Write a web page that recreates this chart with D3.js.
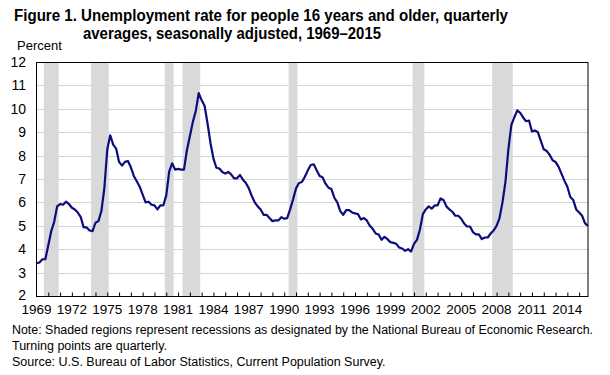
<!DOCTYPE html>
<html>
<head>
<meta charset="utf-8">
<script src="https://cdn.jsdelivr.net/npm/d3@7"></script>
<style>
  body { margin: 0; background: #fff; }
</style>
</head>
<body>
<script>
// quarterly averages, starting 1969 Q1
const firstYear = 1969;
const rate = [
  3.40, 3.43, 3.57, 3.57,   // 1969
  4.17, 4.77, 5.17, 5.83,   // 1970
  5.93, 5.90, 6.03, 5.93,   // 1971
  5.77, 5.70, 5.57, 5.37,   // 1972
  4.93, 4.93, 4.80, 4.77,   // 1973
  5.13, 5.20, 5.63, 6.60,   // 1974
  8.27, 8.87, 8.47, 8.30,   // 1975
  7.73, 7.57, 7.73, 7.77,   // 1976
  7.50, 7.13, 6.90, 6.67,   // 1977
  6.33, 6.00, 6.03, 5.90,   // 1978
  5.87, 5.70, 5.87, 5.87,   // 1979
  6.30, 7.33, 7.67, 7.40,   // 1980
  7.43, 7.40, 7.40, 8.23,   // 1981
  8.83, 9.43, 9.90, 10.67,  // 1982
  10.37, 10.13, 9.37, 8.53, // 1983
  7.87, 7.48, 7.45, 7.30,   // 1984
  7.23, 7.30, 7.20, 7.03,   // 1985
  7.03, 7.17, 6.97, 6.83,   // 1986
  6.60, 6.27, 6.00, 5.83,   // 1987
  5.70, 5.47, 5.47, 5.33,   // 1988
  5.20, 5.23, 5.23, 5.37,   // 1989
  5.30, 5.33, 5.70, 6.13,   // 1990
  6.60, 6.83, 6.87, 7.10,   // 1991
  7.37, 7.60, 7.63, 7.37,   // 1992
  7.13, 7.07, 6.80, 6.63,   // 1993
  6.57, 6.20, 6.00, 5.63,   // 1994
  5.47, 5.67, 5.67, 5.57,   // 1995
  5.53, 5.50, 5.27, 5.33,   // 1996
  5.23, 5.00, 4.87, 4.67,   // 1997
  4.63, 4.40, 4.53, 4.43,   // 1998
  4.30, 4.27, 4.23, 4.07,   // 1999
  4.03, 3.93, 4.00, 3.90,   // 2000
  4.23, 4.40, 4.83, 5.50,   // 2001
  5.70, 5.83, 5.73, 5.87,   // 2002
  5.87, 6.17, 6.10, 5.83,   // 2003
  5.70, 5.60, 5.43, 5.43,   // 2004
  5.30, 5.10, 4.97, 4.97,   // 2005
  4.73, 4.63, 4.63, 4.43,   // 2006
  4.50, 4.50, 4.67, 4.80,   // 2007
  5.00, 5.33, 6.00, 6.87,   // 2008
  8.27, 9.30, 9.63, 9.93,   // 2009
  9.83, 9.63, 9.47, 9.50,   // 2010
  9.03, 9.07, 9.00, 8.63,   // 2011
  8.27, 8.20, 8.03, 7.80,   // 2012
  7.73, 7.53, 7.23, 6.93,   // 2013
  6.67, 6.23, 6.10, 5.70,   // 2014
  5.57, 5.43, 5.10, 5.00    // 2015
];

// NBER peak and trough quarters
const recessionPeak   = ["1969Q4", "1973Q4", "1980Q1", "1981Q3", "1990Q3", "2001Q1", "2007Q4"];
const recessionTrough = ["1970Q4", "1975Q1", "1980Q3", "1982Q4", "1991Q1", "2001Q4", "2009Q2"];

const yTicks = [2, 3, 4, 5, 6, 7, 8, 9, 10, 11, 12];
const xLabelYears = d3.range(1969, 2015, 3);

const titleLines = [
  "Figure 1. Unemployment rate for people 16 years and older, quarterly",
  "averages, seasonally adjusted, 1969–2015"
];
const noteLines = [
  "Note: Shaded regions represent recessions as designated by the National Bureau of Economic Research.",
  "Turning points are quarterly.",
  "Source: U.S. Bureau of Labor Statistics, Current Population Survey."
];

const width = 610, height = 375;
const margin = {top: 62, right: 22, bottom: 79, left: 36.5};
const font = "'Liberation Sans', Arial, sans-serif";

const data = rate.map((v, i) => ({t: firstYear + i / 4, v}));
const qt = s => +s.slice(0, 4) + (+s[5] - 1) / 4;

const x = d3.scaleLinear()
    .domain([firstYear, d3.max(data, d => d.t)])
    .range([margin.left, width - margin.right]);

const y = d3.scaleLinear()
    .domain([2, 12])
    .range([height - margin.bottom, margin.top]);

const svg = d3.select("body").append("svg")
    .attr("width", width)
    .attr("height", height)
    .attr("font-family", font);

// gridlines
svg.append("g")
    .attr("stroke", "#d4d4d4")
  .selectAll("line")
  .data(yTicks.slice(1, -1))
  .join("line")
    .attr("x1", margin.left)
    .attr("x2", width - margin.right)
    .attr("y1", d => Math.round(y(d)) + 0.5)
    .attr("y2", d => Math.round(y(d)) + 0.5);

// recession bands, padded by half a quarter each side
svg.append("g")
    .attr("fill", "#d9d9d9")
  .selectAll("rect")
  .data(d3.zip(recessionPeak, recessionTrough))
  .join("rect")
    .attr("x", d => x(qt(d[0]) - 0.125))
    .attr("width", d => x(qt(d[1]) + 0.125) - x(qt(d[0]) - 0.125))
    .attr("y", y(12))
    .attr("height", y(2) - y(12));

// frame
svg.append("rect")
    .attr("x", margin.left)
    .attr("y", y(12) + 0.5)
    .attr("width", width - margin.right - margin.left)
    .attr("height", y(2) - y(12))
    .attr("fill", "none")
    .attr("stroke", "#000");

// x axis: a tick every year, pointing inward
svg.append("g")
    .attr("transform", `translate(0,${y(2) + 0.5})`)
    .call(d3.axisBottom(x)
        .tickValues(d3.range(1970, 2016))
        .tickSizeInner(-4)
        .tickSizeOuter(0)
        .tickFormat(""))
    .call(g => g.select(".domain").remove())
    .call(g => g.selectAll(".tick line").attr("stroke", "#000"));

svg.append("g")
    .attr("font-size", 13.5)
    .attr("text-anchor", "middle")
  .selectAll("text")
  .data(xLabelYears)
  .join("text")
    .attr("x", d => x(d))
    .attr("y", 314)
    .text(d => d);

// y axis labels
svg.append("g")
    .attr("font-size", 14)
    .attr("text-anchor", "end")
  .selectAll("text")
  .data(yTicks)
  .join("text")
    .attr("x", 26)
    .attr("y", d => y(d) - (d === 2 ? 1 : 0))
    .attr("dy", "0.36em")
    .text(d => d);

svg.append("text")
    .attr("x", 17)
    .attr("y", 50)
    .attr("font-size", 13)
    .text("Percent");

// the series
svg.append("path")
    .datum(data)
    .attr("fill", "none")
    .attr("stroke", "#0c0c7c")
    .attr("stroke-width", 2.2)
    .attr("stroke-linejoin", "round")
    .attr("d", d3.line().x(d => x(d.t)).y(d => y(d.v)));

// title
const title = svg.append("g")
    .attr("font-size", 16)
    .attr("font-weight", "bold");
title.append("text").attr("x", 14).attr("y", 21)
    .attr("textLength", 494).attr("lengthAdjust", "spacingAndGlyphs")
    .text(titleLines[0]);
title.append("text").attr("x", 83).attr("y", 39)
    .attr("textLength", 298).attr("lengthAdjust", "spacingAndGlyphs")
    .text(titleLines[1]);

// notes
svg.append("g")
    .attr("font-size", 12.5)
  .selectAll("text")
  .data(noteLines)
  .join("text")
    .attr("x", 12)
    .attr("y", (d, i) => 334 + i * 16)
    .text(d => d)
    .filter((d, i) => i === 0)
    .attr("textLength", 581)
    .attr("lengthAdjust", "spacingAndGlyphs");
</script>
</body>
</html>
